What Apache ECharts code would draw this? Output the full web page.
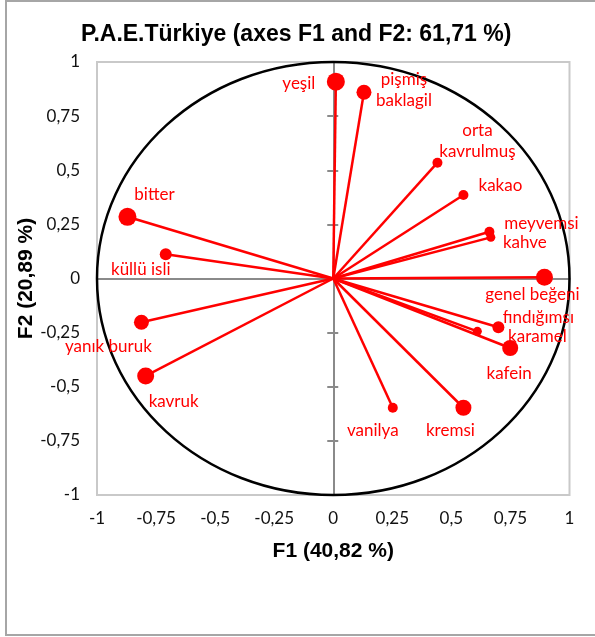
<!DOCTYPE html>
<html>
<head>
<meta charset="utf-8">
<script src="https://cdn.jsdelivr.net/npm/echarts@6/dist/echarts.min.js"></script>
<style>
  html, body { margin: 0; padding: 0; background: #fff; }
  #chart { width: 595px; height: 637px; }
</style>
</head>
<body>
<div id="chart"></div>
<script>
// Variable loadings on the first two factors
const variables = ['yeşil', 'pişmiş\nbaklagil', 'orta\nkavrulmuş', 'kakao', 'meyvemsi', 'kahve',
  'genel beğeni', 'fındığımsı', 'karamel', 'kafein', 'kremsi', 'vanilya',
  'kavruk', 'yanık buruk', 'küllü isli', 'bitter'];
const f1 = [0.011, 0.130, 0.441, 0.551, 0.661, 0.667, 0.894, 0.699, 0.610, 0.749, 0.551, 0.252,
  -0.794, -0.812, -0.709, -0.871];
const f2 = [0.909, 0.860, 0.535, 0.386, 0.216, 0.190, 0.006, -0.225, -0.244, -0.321, -0.597, -0.597,
  -0.450, -0.202, 0.112, 0.285];
const axisTicks = [-1, -0.75, -0.5, -0.25, 0, 0.25, 0.5, 0.75, 1];

// Marker diameters and label offsets from the marker centre (px)
const markerSizes = [18, 15, 10, 10, 10, 9, 17, 12, 9, 16, 16, 10, 17, 15, 12, 18];
const labelOffsets = [[-37, 2], [40, -2], [40, -22], [37, -9], [52, -8], [34, 5],
  [-12, 17], [40, -10], [60, 5], [-1, 26], [-13, 23], [-20, 23],
  [28, 26], [-33, 24], [-25, 15], [27, -22]];

const RED = '#ff0000';
const fmt = v => String(v).replace('.', ',');
const labelFont = 'Lato, "Open Sans", sans-serif';

const chart = echarts.init(document.getElementById('chart'), null, { renderer: 'canvas' });

const baseAxis = {
  type: 'value',
  min: axisTicks[0],
  max: axisTicks[axisTicks.length - 1],
  interval: 0.25,
  splitLine: { show: false }
};

chart.setOption({
  animation: false,
  backgroundColor: '#ffffff',
  title: {
    text: 'P.A.E.Türkiye (axes F1 and F2: 61,71 %)',
    left: 81,
    top: 21,
    padding: 0,
    textStyle: {
      fontFamily: '"Liberation Sans", Arial, sans-serif',
      fontWeight: 'bold',
      fontSize: 23,
      lineHeight: 28,
      color: '#000'
    }
  },
  graphic: [{
    type: 'rect',
    shape: { x: 6, y: 1, width: 620, height: 634 },
    style: { fill: 'none', stroke: '#a6a6a6', lineWidth: 2 },
    silent: true,
    z: -10
  }],
  grid: {
    left: 97, top: 62, width: 472.5, height: 433,
    show: true, borderColor: '#c9c9c9', borderWidth: 2, backgroundColor: 'transparent'
  },
  xAxis: [
    Object.assign({}, baseAxis, {
      position: 'bottom',
      axisLine: { show: false, onZero: false },
      axisTick: { show: false },
      axisLabel: {
        formatter: fmt, margin: 15, color: '#111',
        fontFamily: labelFont, fontSize: 17
      },
      name: 'F1 (40,82 %)',
      nameLocation: 'middle',
      nameGap: 46,
      nameMoveOverlap: false,
      nameTextStyle: {
        fontFamily: '"Liberation Sans", Arial, sans-serif',
        fontWeight: 'bold', fontSize: 21, color: '#000'
      }
    }),
    Object.assign({}, baseAxis, {
      position: 'top',
      axisLine: { show: true, onZero: true, onZeroAxisIndex: 0, lineStyle: { color: '#8a8a8a', width: 2 } },
      axisTick: { show: false },
      axisLabel: { show: false }
    })
  ],
  yAxis: [
    Object.assign({}, baseAxis, {
      position: 'left',
      axisLine: { show: false, onZero: false },
      axisTick: { show: false },
      axisLabel: {
        formatter: fmt, margin: 17, color: '#111',
        fontFamily: labelFont, fontSize: 17
      },
      name: 'F2 (20,89 %)',
      nameLocation: 'middle',
      nameGap: 60,
      nameMoveOverlap: false,
      nameRotate: 90,
      nameTextStyle: {
        fontFamily: '"Liberation Sans", Arial, sans-serif',
        fontWeight: 'bold', fontSize: 21, color: '#000'
      }
    }),
    Object.assign({}, baseAxis, {
      position: 'left',
      axisLine: { show: true, onZero: true, onZeroAxisIndex: 0, lineStyle: { color: '#8a8a8a', width: 2 } },
      axisTick: { show: true, inside: false, length: 6, lineStyle: { color: '#8a8a8a', width: 2 } },
      axisLabel: { show: false }
    }),
    Object.assign({}, baseAxis, {
      position: 'right',
      axisLine: { show: false, onZero: true, onZeroAxisIndex: 0 },
      axisTick: { show: true, inside: false, length: 5, lineStyle: { color: '#8a8a8a', width: 2 } },
      axisLabel: { show: false }
    })
  ],
  series: [
    {
      // correlation circle of radius 1
      type: 'custom',
      clip: false,
      silent: true,
      z: 1,
      data: [[0, 0]],
      renderItem: function (params, api) {
        const c = api.coord([0, 0]);
        const s = api.size([1, 1]);
        return {
          type: 'ellipse',
          shape: { cx: c[0], cy: c[1], rx: s[0], ry: s[1] },
          style: { fill: 'none', stroke: '#000', lineWidth: 2.5 }
        };
      }
    },
    {
      // vectors from the origin
      type: 'lines',
      coordinateSystem: 'cartesian2d',
      z: 3,
      silent: true,
      symbol: 'none',
      lineStyle: { color: RED, width: 2.5, opacity: 1, curveness: 0 },
      data: f1.map((x, i) => ({ coords: [[0, 0], [x, f2[i]]] }))
    },
    {
      type: 'scatter',
      z: 4,
      symbol: 'circle',
      itemStyle: { color: RED, opacity: 1 },
      label: {
        show: true,
        formatter: p => p.name,
        color: RED,
        fontFamily: labelFont,
        fontSize: 17,
        lineHeight: 21,
        align: 'center',
        verticalAlign: 'middle'
      },
      labelLayout: { hideOverlap: false },
      data: variables.map((name, i) => ({
        name: name,
        value: [f1[i], f2[i]],
        symbolSize: markerSizes[i],
        label: {
          position: [markerSizes[i] / 2 + labelOffsets[i][0], markerSizes[i] / 2 + labelOffsets[i][1]],
          align: 'center',
          verticalAlign: 'middle'
        }
      }))
    }
  ]
});
</script>
</body>
</html>
